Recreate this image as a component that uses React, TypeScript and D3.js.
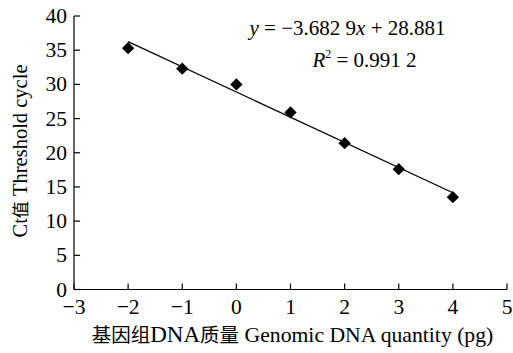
import React, { useEffect, useRef } from 'react';
import * as d3 from 'd3';

// log10 of DNA quantity vs Ct
const quantities = [-2, -1, 0, 1, 2, 3, 4];
const ctValues = [35.3, 32.3, 30.0, 25.9, 21.4, 17.6, 13.5];
const xTicks = [-3, -2, -1, 0, 1, 2, 3, 4, 5];
const yTicks = [0, 5, 10, 15, 20, 25, 30, 35, 40];
const slope = -3.6829;
const intercept = 28.881;

const FONT = "'Liberation Serif', 'DejaVu Serif', 'Noto Sans CJK SC', serif";

const App = () => {
  const ref = useRef<SVGSVGElement>(null);

  useEffect(() => {
    const svg = d3.select(ref.current);
    svg.selectAll('*').remove();

    const x = d3.scaleLinear().domain([-3, 5]).range([74, 507]);
    const y = d3.scaleLinear().domain([0, 40]).range([289.5, 16]);

    const g = svg.append('g');

    // axes
    g.append('line')
      .attr('x1', x(-3)).attr('x2', x(5))
      .attr('y1', y(0)).attr('y2', y(0))
      .attr('stroke', '#000').attr('stroke-width', 1.2);
    g.append('line')
      .attr('x1', x(-3)).attr('x2', x(-3))
      .attr('y1', y(0)).attr('y2', y(40))
      .attr('stroke', '#000').attr('stroke-width', 1.2);

    g.selectAll('.xt')
      .data(xTicks)
      .enter()
      .append('line')
      .attr('x1', (d) => x(d)).attr('x2', (d) => x(d))
      .attr('y1', y(0)).attr('y2', y(0) - 6)
      .attr('stroke', '#000').attr('stroke-width', 1.2);
    g.selectAll('.xl')
      .data(xTicks)
      .enter()
      .append('text')
      .attr('x', (d) => x(d))
      .attr('y', y(0) + 24)
      .attr('text-anchor', 'middle')
      .style('font-family', FONT)
      .style('font-size', '21.5px')
      .text((d) => (d < 0 ? '\u2212' + Math.abs(d) : String(d)));

    g.selectAll('.yt')
      .data(yTicks)
      .enter()
      .append('line')
      .attr('x1', x(-3)).attr('x2', x(-3) + 6)
      .attr('y1', (d) => y(d)).attr('y2', (d) => y(d))
      .attr('stroke', '#000').attr('stroke-width', 1.2);
    g.selectAll('.yl')
      .data(yTicks)
      .enter()
      .append('text')
      .attr('x', 67)
      .attr('y', (d) => y(d) + 7)
      .attr('text-anchor', 'end')
      .style('font-family', FONT)
      .style('font-size', '21.5px')
      .text((d) => d);

    // trend line
    const line = d3.line<number>().x((d) => x(d)).y((d) => y(slope * d + intercept));
    g.append('path')
      .datum([quantities[0], quantities[quantities.length - 1]])
      .attr('d', line)
      .attr('fill', 'none')
      .attr('stroke', '#000')
      .attr('stroke-width', 1.3);

    // diamonds
    const diamond = d3.symbol().type(d3.symbolSquare).size(76);
    g.selectAll('.pt')
      .data(quantities)
      .enter()
      .append('path')
      .attr('d', diamond)
      .attr('transform', (d, i) => `translate(${x(d)},${y(ctValues[i])}) rotate(45)`)
      .attr('fill', '#000');

    // equation
    const eq = g.append('text')
      .attr('x', 347.5).attr('y', 35)
      .attr('text-anchor', 'middle')
      .style('font-family', FONT)
      .style('font-size', '21px');
    eq.append('tspan').style('font-style', 'italic').text('y');
    eq.append('tspan').text(' = \u22123.682 9');
    eq.append('tspan').style('font-style', 'italic').text('x');
    eq.append('tspan').text(' + 28.881');

    const r2 = g.append('text')
      .attr('x', 364.5).attr('y', 67)
      .attr('text-anchor', 'middle')
      .style('font-family', FONT)
      .style('font-size', '21px');
    r2.append('tspan').style('font-style', 'italic').text('R');
    r2.append('tspan').attr('dy', -9).style('font-size', '12px').text('2');
    r2.append('tspan').attr('dy', 9).text(' = 0.991 2');

    // axis titles
    const yt = g.append('text')
      .attr('transform', `translate(27,151) rotate(-90)`)
      .attr('text-anchor', 'middle')
      .style('font-family', FONT)
      .style('font-size', '20.5px');
    yt.append('tspan').text('Ct');
    yt.append('tspan').style('font-size', '17px').text('值');
    yt.append('tspan').text(' Threshold cycle');

    const xt = g.append('text')
      .attr('x', 292.5).attr('y', 342)
      .attr('text-anchor', 'middle')
      .style('font-family', FONT)
      .style('font-size', '21.7px');
    xt.append('tspan').style('font-size', '19.5px').text('基因组');
    xt.append('tspan').style('font-size', '23px').text('DNA');
    xt.append('tspan').style('font-size', '19.5px').text('质量');
    xt.append('tspan').text(' Genomic DNA quantity (pg)');
  }, []);

  return (
    <svg
      ref={ref}
      width={513}
      height={353}
      style={{ position: 'absolute', left: 0, top: 0, background: '#fff' }}
    />
  );
};

export default App;
